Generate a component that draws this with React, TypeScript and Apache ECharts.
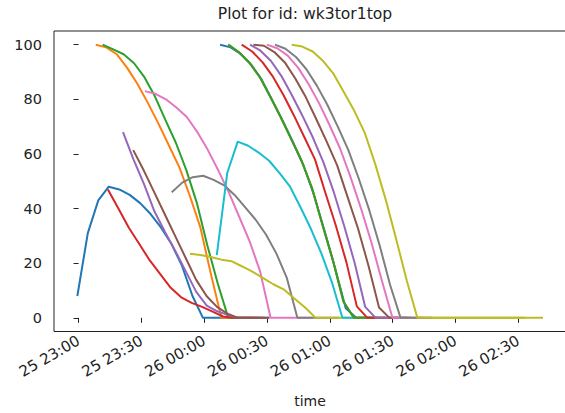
import React, { useEffect, useRef } from "react";
import * as echarts from "echarts";

// time axis in minutes after 25 23:00
const xTickMinutes = [0, 30, 60, 90, 120, 150, 180, 210];
const xTickLabels = ["25 23:00", "25 23:30", "26 00:00", "26 00:30", "26 01:00", "26 01:30", "26 02:00", "26 02:30"];
const yTicks = [0, 20, 40, 60, 80, 100];
const stepMinutes = 5;

const seriesColors = ["#1f77b4", "#ff7f0e", "#2ca02c", "#d62728", "#9467bd", "#8c564b", "#e377c2", "#7f7f7f", "#bcbd22", "#17becf"];
const seriesStart = [-0.6, 8.2, 11.5, 14.0, 21.2, 26.1, 31.7, 44.5, 53.2, 66.0, 67.6, 71.5, 71.5, 77.9, 81.9, 83.5, 89.9, 93.8, 101.8];

const s01 = [8, 31, 43, 48, 47, 45, 42, 38, 33, 27, 19, 8, 0, 0, 0, 0];
const s02 = [100, 99, 96.5, 91.5, 85.5, 78.5, 71, 63, 55, 44.5, 33, 16, 0, 0, 0, 0];
const s03 = [100, 98.3, 96.5, 93.2, 88, 81, 72.4, 64, 54, 42, 26.5, 12.5, 0, 0, 0, 0];
const s04 = [47, 40, 33, 27, 21, 16, 11, 7.5, 5.5, 4, 2.3, 0.5, 0, 0, 0, 0];
const s05 = [68, 58, 49, 39, 31.5, 24.5, 17, 9.5, 4.5, 2.4, 1.1, 0, 0, 0, 0];
const s06 = [61.4, 54, 46, 38, 30, 22, 14, 8, 4, 1.5, 0, 0, 0, 0];
const s07 = [83, 82, 80, 77, 73.5, 68, 61.5, 54, 46, 37, 28, 17, 0, 0, 0, 0, 0];
const s08 = [46, 49.5, 51.5, 52, 50.5, 48.5, 45, 40.5, 36, 30.5, 23.5, 14.5, 0, 0, 0, 0, 0];
const s09 = [23.5, 23, 22.3, 21.3, 20.7, 18.8, 16.8, 14.5, 12.2, 10.3, 7, 3.8, 0, 0, 0, 0, 0, 0, 0, 0, 0, 0, 0, 0, 0, 0, 0, 0, 0, 0, 0, 0, 0];
const s10 = [23, 53, 64.5, 63, 60.5, 57.5, 53, 48, 40.5, 32.5, 23.5, 13, 0, 0, 0, 0];
const s11 = [100, 99, 96.5, 92.5, 87, 79.5, 72, 64, 55.5, 44.5, 31.5, 18, 3.5, 0, 0, 0];
const s12 = [100, 97.3, 93.5, 88.2, 81, 73.5, 65.5, 57.5, 47.5, 34, 21, 6, 0, 0, 0, 0];
const s13 = [100, 97.3, 93.5, 88.2, 81, 73.5, 65.5, 57.5, 47.5, 34, 21, 6, 0, 0, 0, 0];
const s14 = [100, 97.5, 93.5, 88.2, 81.5, 74, 66, 58, 45.7, 33.7, 20.4, 4.2, 0, 0, 0, 0];
const s15 = [100, 97.8, 94, 88.5, 81.5, 74, 66, 57, 46, 33.5, 20, 4, 0, 0, 0, 0];
const s16 = [100, 99.6, 97.3, 93.5, 87.6, 80.8, 72.8, 64.5, 55.8, 44.2, 32.6, 19, 3.8, 0, 0, 0];
const s17 = [100, 98.7, 96, 91.5, 85.5, 78.5, 70.5, 62, 51.5, 40, 27.5, 13.5, 0, 0, 0, 0];
const s18 = [100, 98.5, 95.5, 91, 85, 78, 70, 61.5, 51, 39.5, 26.5, 12, 0, 0, 0, 0];
const s19 = [100, 99.3, 97.5, 94, 89.3, 82.5, 75.6, 67.5, 56, 43, 28.5, 13.5, 0, 0, 0, 0, 0, 0, 0, 0, 0, 0, 0, 0, 0];

const allSeries = [s01, s02, s03, s04, s05, s06, s07, s08, s09, s10, s11, s12, s13, s14, s15, s16, s17, s18, s19];

const FONT = "DejaVu Sans";

export default function App() {
  const ref = useRef<HTMLDivElement>(null);
  useEffect(() => {
    document.body.style.margin = "0";
    const chart = echarts.init(ref.current!, undefined, { renderer: "svg" });
    const series = allSeries.map((vals, i) => ({
      type: "line",
      data: vals.map((v, k) => [seriesStart[i] + k * stepMinutes, v]),
      showSymbol: false,
      symbol: "none",
      lineStyle: { width: 2, color: seriesColors[i % 10] },
      itemStyle: { color: seriesColors[i % 10] },
      silent: true,
    }));
    chart.setOption({
      animation: false,
      grid: {
        left: 54,
        right: 1.5,
        top: 31,
        bottom: 81.5,
        show: true,
        borderColor: "#222",
        borderWidth: 1,
      },
      xAxis: {
        type: "value",
        min: -11.75,
        max: 234,
        splitLine: { show: false },
        axisLine: { show: false },
        axisTick: { show: true, length: 5, lineStyle: { color: "#222" }, customValues: xTickMinutes },
        axisLabel: {
          customValues: xTickMinutes,
          rotate: 30,
          margin: 8,
          fontFamily: FONT,
          fontSize: 15,
          color: "#222",
          formatter: (v: number) => xTickLabels[xTickMinutes.indexOf(v)] ?? "",
        },
      },
      yAxis: {
        type: "value",
        min: -5,
        max: 105,
        splitLine: { show: false },
        axisLine: { show: false },
        axisTick: { show: true, length: 5, lineStyle: { color: "#222" }, customValues: yTicks },
        axisLabel: {
          customValues: yTicks,
          margin: 12,
          fontFamily: FONT,
          fontSize: 14.5,
          color: "#222",
        },
      },
      graphic: [
        {
          type: "text",
          style: {
            text: "Plot for id: wk3tor1top",
            x: 305,
            y: 14,
            textAlign: "center",
            textVerticalAlign: "middle",
            fontFamily: FONT,
            fontSize: 15.6,
            fill: "#222",
          },
        },
        {
          type: "text",
          style: {
            text: "time",
            x: 310,
            y: 401,
            textAlign: "center",
            textVerticalAlign: "middle",
            fontFamily: FONT,
            fontSize: 14,
            fill: "#222",
          },
        },
      ],
      series,
    });
    return () => chart.dispose();
  }, []);
  return (
    <div style={{ width: 565, height: 413, overflow: "hidden", position: "relative" }}>
      <div ref={ref} style={{ width: 570, height: 413 }} />
    </div>
  );
}
